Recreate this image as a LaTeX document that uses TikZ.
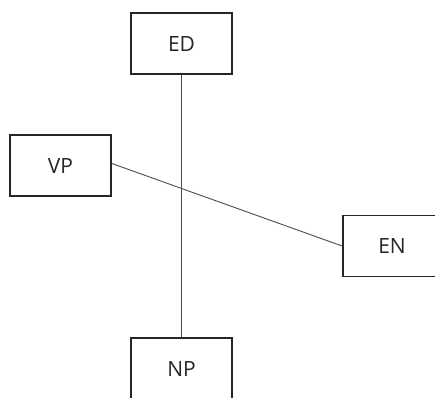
\documentclass[tikz,border=0pt]{standalone}
\usepackage{fontspec}
\setmainfont{Open Sans}
\begin{document}
\begin{tikzpicture}[x=1pt,y=-1pt,
  box/.style={draw=black!85,line width=1.8pt,rectangle,inner sep=0pt,
    minimum width=101pt,minimum height=61pt,text=black!85,
    font=\fontsize{21}{24}\selectfont},
  link/.style={draw=black!70,line width=0.9pt}]
\useasboundingbox (0,0) rectangle (435,397);
\clip (0,0) rectangle (435,397);
\node[box] (ED) at (181.5,43.5) {ED};
\node[box] (VP) at (60.5,165.5) {VP};
\node[box,minimum width=98pt] (EN) at (392,246) {EN};
\node[box] (NP) at (181.5,368.5) {NP};
\draw[link] (ED.south) -- (NP.north);
\draw[link] ([yshift=2pt]VP.east) -- (EN.west);
\end{tikzpicture}
\end{document}
